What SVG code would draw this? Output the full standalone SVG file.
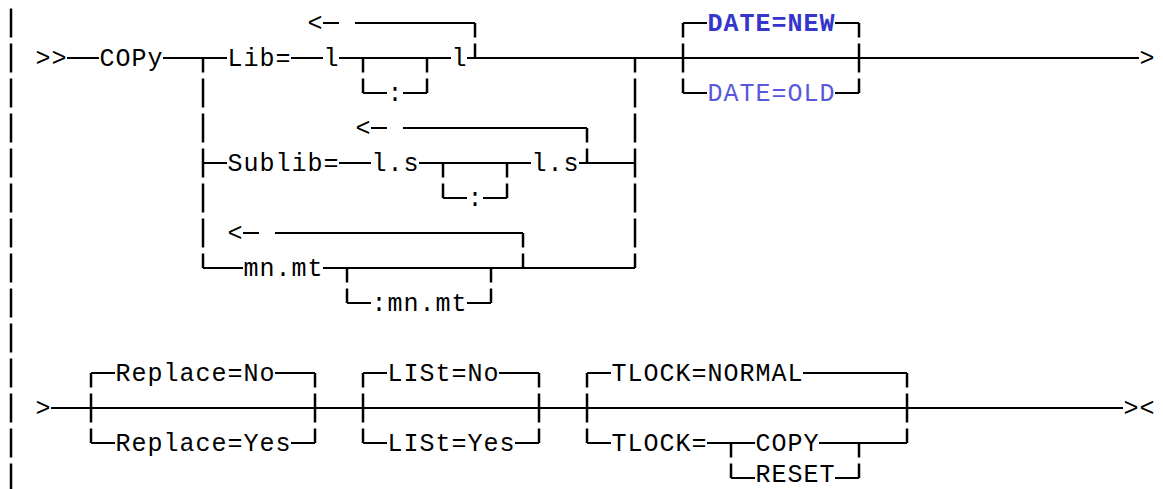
<svg xmlns="http://www.w3.org/2000/svg" width="1163" height="489" viewBox="0 0 1163 489">
<style>
.t{font-family:"Liberation Mono","Courier New",monospace;font-size:25px;letter-spacing:1px;fill:#000}
.new{fill:#3535cc;font-weight:bold}
.old{fill:#5858dd}
.h{stroke:#000;stroke-width:2;fill:none}
.v{stroke:#000;stroke-width:2.5;fill:none;stroke-dasharray:29 6;stroke-dashoffset:14.5}
.v0{stroke-dashoffset:0}
</style>
<rect width="1163" height="489" fill="#fff"/>
<g id="connectors">
<path class="h" d="M323 23H339M355 23H475M683 23H707M835 23H859
M67 58H99M163 58H227M291 58H323M339 58H451M467 58H1139
M363 93H387M403 93H427M683 93H707M835 93H859
M371 128H387M403 128H587
M203 163H227M339 163H371M419 163H531M579 163H635
M443 198H467M483 198H507
M243 233H259M275 233H523
M203 268H243M323 268H635
M347 303H371M467 303H491
M91 373H115M275 373H315M363 373H387M499 373H539M587 373H611M803 373H907
M51 408H1123
M91 443H115M291 443H315M363 443H387M515 443H539M587 443H611M707 443H755M819 443H907
M731 478H755M835 478H859"/>
<path class="v v0" d="M11 8.5V489"/>
<path class="v" d="M475 23V58"/>
<path class="v" d="M203 58V268"/>
<path class="v" d="M363 58V93"/>
<path class="v" d="M427 58V93"/>
<path class="v" d="M635 58V268"/>
<path class="v" d="M683 23V93"/>
<path class="v" d="M859 23V93"/>
<path class="v" d="M587 128V163"/>
<path class="v" d="M443 163V198"/>
<path class="v" d="M507 163V198"/>
<path class="v" d="M523 233V268"/>
<path class="v" d="M347 268V303"/>
<path class="v" d="M491 268V303"/>
<path class="v" d="M91 373V443"/>
<path class="v" d="M315 373V443"/>
<path class="v" d="M363 373V443"/>
<path class="v" d="M539 373V443"/>
<path class="v" d="M587 373V443"/>
<path class="v" d="M907 373V443"/>
<path class="v" d="M731 443V478"/>
<path class="v" d="M859 443V478"/>
</g>
<g id="start"><text class="t" x="35.5" y="65.5">&gt;&gt;</text></g>
<g id="copy"><text class="t" x="99.5" y="65.5">COPy</text></g>
<g id="lib"><text class="t" x="227.5" y="65.5">Lib=</text></g>
<g id="lib-l1"><text class="t" x="323.5" y="65.5">l</text></g>
<g id="lib-rep"><text class="t" x="307.5" y="30.5">&lt;</text></g>
<g id="lib-colon"><text class="t" x="387.5" y="100.5">:</text></g>
<g id="lib-l2"><text class="t" x="451.5" y="65.5">l</text></g>
<g id="cont1"><text class="t" x="1139.5" y="65.5">&gt;</text></g>
<g id="date-new"><text class="t new" x="707.5" y="30.5">DATE=NEW</text></g>
<g id="date-old"><text class="t old" x="707.5" y="100.5">DATE=OLD</text></g>
<g id="sublib-rep"><text class="t" x="355.5" y="135.5">&lt;</text></g>
<g id="sublib"><text class="t" x="227.5" y="170.5">Sublib=</text></g>
<g id="sublib-ls1"><text class="t" x="371.5" y="170.5">l.s</text></g>
<g id="sublib-colon"><text class="t" x="467.5" y="205.5">:</text></g>
<g id="sublib-ls2"><text class="t" x="531.5" y="170.5">l.s</text></g>
<g id="mn-rep"><text class="t" x="227.5" y="240.5">&lt;</text></g>
<g id="mnmt"><text class="t" x="243.5" y="275.5">mn.mt</text></g>
<g id="mnmt2"><text class="t" x="371.5" y="310.5">:mn.mt</text></g>
<g id="cont2"><text class="t" x="35.5" y="415.5">&gt;</text></g>
<g id="replace-no"><text class="t" x="115.5" y="380.5">Replace=No</text></g>
<g id="replace-yes"><text class="t" x="115.5" y="450.5">Replace=Yes</text></g>
<g id="list-no"><text class="t" x="387.5" y="380.5">LISt=No</text></g>
<g id="list-yes"><text class="t" x="387.5" y="450.5">LISt=Yes</text></g>
<g id="tlock-normal"><text class="t" x="611.5" y="380.5">TLOCK=NORMAL</text></g>
<g id="tlock"><text class="t" x="611.5" y="450.5">TLOCK=</text></g>
<g id="tlock-copy"><text class="t" x="755.5" y="450.5">COPY</text></g>
<g id="tlock-reset"><text class="t" x="755.5" y="481.5">RESET</text></g>
<g id="end"><text class="t" x="1123.5" y="415.5">&gt;&lt;</text></g>
</svg>
